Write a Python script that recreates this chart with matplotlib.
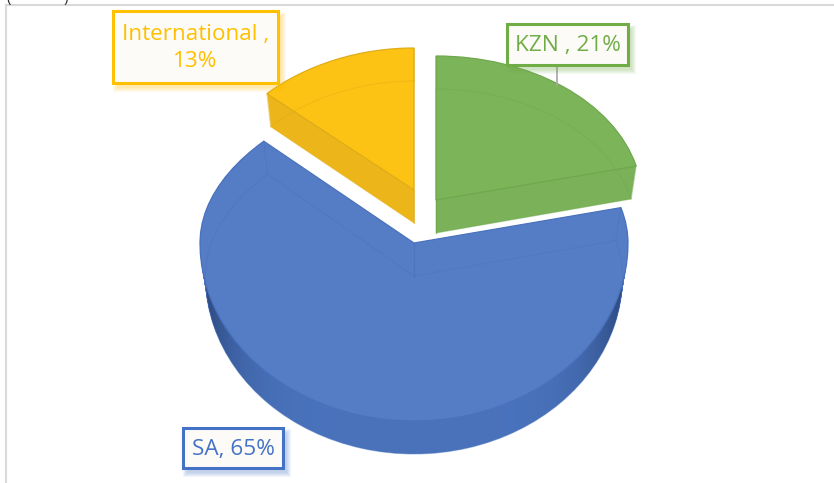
import matplotlib
matplotlib.use('Agg')
import matplotlib.pyplot as plt
import numpy as np
from matplotlib.patches import Rectangle
from matplotlib.path import Path
from matplotlib.transforms import Transform

plt.rcParams['font.family'] = ['Open Sans', 'DejaVu Sans']

# data, clockwise from 12 o'clock
names = ['KZN', 'SA', 'International']
values = [21, 65, 13]

# look of each slice (pixels of the picture)
top_colors = ['#7CB45A', '#557DC6', '#FCC314']
side_colors = ['#7AB159', '#4A74BE', '#ECB51A']
edge_colors = ['#6FA84E', '#4A72BC', '#E0AC18']
apex_x = [436, 414, 414]
apex_y = [200, 243, 190]
rx = [206, 214, 204]
ry_back = [144, 150, 142]
ry_front = [144, 178, 142]
taper = [0.0, 0.097, 0.04]
depth = 33
bottom_scale = 0.975
R = 200

# label boxes: left, top, right, bottom, text
boxes = [(507, 24, 628, 65, 'KZN , 21%', '#70AD47'),
         (183, 428, 283, 468, 'SA, 65%', '#4472C4'),
         (113, 11, 278, 83, 'International ,\n13%', '#FFC000')]


class Tilt(Transform):
    # flat pie coordinates -> picture pixels, back half flatter and narrower than front half
    input_dims = 2
    output_dims = 2

    def __init__(self, i, d=0.0):
        super().__init__()
        self.i = i
        self.d = d

    def transform_non_affine(self, v):
        v = np.asarray(v, dtype=float)
        t = self.d / depth
        s = 1 - (1 - bottom_scale) * t
        back = np.clip(v[:, 1] / R, 0, 1)
        s = s * (1 - taper[self.i] * back ** 2)
        ky = np.where(v[:, 1] > 0, ry_back[self.i], ry_front[self.i]) / R
        x = apex_x[self.i] + v[:, 0] * rx[self.i] / R * s
        y = apex_y[self.i] + self.d - v[:, 1] * ky
        return np.column_stack([x, y])

    def transform_path_non_affine(self, path):
        poly = path.to_polygons()[0]
        return Path(self.transform_non_affine(poly), closed=True)


fig = plt.figure(figsize=(8.34, 4.83), dpi=100)
ax = fig.add_axes([0, 0, 1, 1])

# extruded body, bottom layer up to just under the top face
bottom_wedges = None
for d in np.arange(depth, 0, -1.0):
    wedges = ax.pie(values, colors=side_colors, startangle=90, counterclock=False, radius=R)[0]
    for i, w in enumerate(wedges):
        w.set_transform(Tilt(i, d) + ax.transData)
        w.set_zorder(2)
    if bottom_wedges is None:
        bottom_wedges = wedges

# dark sides on the blue rim
t = np.linspace(-1, 1, 300)
shade = np.zeros((1, 300, 4))
shade[0, :, 0:3] = (0.10, 0.17, 0.33)
shade[0, :, 3] = 0.02 + 0.65 * np.abs(t) ** 6
im = ax.imshow(shade, extent=(200, 628, 470, 230), aspect='auto', zorder=3, interpolation='bilinear')
im.set_clip_path(bottom_wedges[1])

# top faces
top = ax.pie(values, colors=top_colors, startangle=90, counterclock=False, radius=R,
             wedgeprops={'linewidth': 0.9})[0]
for i, w in enumerate(top):
    w.set_transform(Tilt(i) + ax.transData)
    w.set_edgecolor(edge_colors[i])
    w.set_zorder(4)

# see-through outline of the bottom faces and the upright corners
low = ax.pie(values, colors=['none'] * 3, startangle=90, counterclock=False, radius=R,
             wedgeprops={'linewidth': 0.8})[0]
for i, w in enumerate(low):
    w.set_transform(Tilt(i, depth) + ax.transData)
    w.set_edgecolor(edge_colors[i])
    w.set_alpha(0.4)
    w.set_zorder(5)
    for a in (w.theta1, w.theta2):
        p = np.array([[0, 0], [R * np.cos(np.radians(a)), R * np.sin(np.radians(a))]])
        p1 = Tilt(i).transform_non_affine(p)
        p2 = Tilt(i, depth).transform_non_affine(p)
        for k in range(2):
            ax.plot([p1[k, 0], p2[k, 0]], [p1[k, 1], p2[k, 1]], color=edge_colors[i],
                    lw=0.8, alpha=0.45, zorder=5)

# leader line of KZN
ax.plot([557, 557], [65, 85], color='#A6A6A6', lw=1.2, zorder=6)

# label boxes with soft shadow
for x0, y0, x1, y1, label, col in boxes:
    for g in range(5):
        ax.add_patch(Rectangle((x0 + 4 - g, y0 + 5 - g), x1 - x0 + 2 * g, y1 - y0 + 2 * g,
                               facecolor=col, edgecolor='none', alpha=0.07, zorder=7))
    ax.add_patch(Rectangle((x0, y0), x1 - x0, y1 - y0, facecolor='#FCFBF8', edgecolor=col,
                           linewidth=2.2, zorder=8))
    ax.text((x0 + x1) / 2, (y0 + y1) / 2 + 1, label, color=col, fontsize=16.2, ha='center',
            va='center', linespacing=1.4, zorder=9)

# frame of the chart area and the bit of text cut off above it
ax.plot([6, 6, 834], [483, 5, 5], color='#D9D9D9', lw=1.5, zorder=1, solid_joinstyle='miter')
ax.text(6, 2, '(', fontsize=11, color='#333333', va='baseline', ha='left')
ax.text(64, 2, ')', fontsize=11, color='#333333', va='baseline', ha='left')

ax.set_aspect('auto')
ax.set_xlim(0, 834)
ax.set_ylim(483, 0)
ax.axis('off')
fig.savefig('out.png', dpi=100, facecolor='white')
